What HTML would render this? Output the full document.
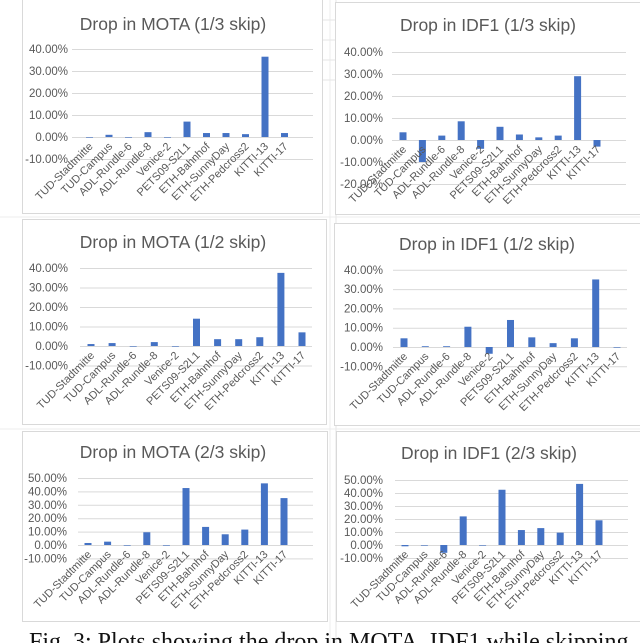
<!DOCTYPE html>
<html><head><meta charset="utf-8">
<style>
html,body{margin:0;padding:0;background:#fff;}
body{width:640px;height:643px;overflow:hidden;position:relative;}
svg{position:absolute;left:0;top:0;}
</style></head>
<body>
<svg id="fig" width="640" height="643" viewBox="0 0 640 643" xmlns="http://www.w3.org/2000/svg">
  <g id="bg">
    <line x1="336" y1="0" x2="336" y2="643" stroke="#e6e6e6"/>
    <line x1="330" y1="0" x2="330" y2="643" stroke="#ececec"/>
    <line x1="320" y1="20" x2="336" y2="20" stroke="#e6e6e6"/>
    <line x1="320" y1="40" x2="336" y2="40" stroke="#e6e6e6"/>
    <line x1="320" y1="60" x2="336" y2="60" stroke="#e6e6e6"/>
    <line x1="320" y1="80" x2="336" y2="80" stroke="#e6e6e6"/>
    <line x1="0" y1="217" x2="640" y2="217" stroke="#ececec"/>
    <line x1="0" y1="429" x2="640" y2="429" stroke="#ececec"/>
  </g>
  <text x="29" y="649" font-family="'Liberation Serif', serif" font-size="24" fill="#111">Fig. 3: Plots showing the drop in MOTA, IDF1 while skipping</text>
</svg>
<script>
const categories = ["TUD-Stadtmitte","TUD-Campus","ADL-Rundle-6","ADL-Rundle-8","Venice-2","PETS09-S2L1","ETH-Bahnhof","ETH-SunnyDay","ETH-Pedcross2","KITTI-13","KITTI-17"];
const motaThird = [0, 1, 0, 2.2, 0, 7, 1.8, 1.8, 1.3, 36.5, 1.8];
const idfThird = [3.5, -10, 2, 8.5, -4, 6, 2.5, 1.2, 2, 29, -3];
const motaHalf = [1, 1.5, 0, 2, 0, 14, 3.5, 3.5, 4.5, 37.5, 7];
const idfHalf = [4.5, 0.4, 0.4, 10.5, -3.5, 14, 5, 2, 4.5, 35, 0];
const motaTwoThird = [1.5, 2.5, 0, 9.5, -0.3, 42.5, 13.5, 8, 11.5, 46, 35];
const idfTwoThird = [-1, -0.3, -6, 22, -0.3, 42.5, 11.5, 13, 9.5, 47, 19];
const ticksA = [40, 30, 20, 10, 0, -10];
const ticksB = [40, 30, 20, 10, 0, -10, -20];
const ticksC = [50, 40, 30, 20, 10, 0, -10];

const NS = "http://www.w3.org/2000/svg";
const svg = document.getElementById('fig');
function mk(tag, attrs, parent){
  const e = document.createElementNS(NS, tag);
  for (const k in attrs) e.setAttribute(k, attrs[k]);
  parent.appendChild(e);
  return e;
}
const panels = [
  {name:"mota-third", title:"Drop in MOTA (1/3 skip)", values:motaThird, ticks:ticksA, box:[22,-1,300,214], tx:173, ty:30, y0:137, ppu:2.2, gx0:72, gx1:313, lx:68, c0:89.5, dx:19.5},
  {name:"idf1-third", title:"Drop in IDF1 (1/3 skip)", values:idfThird, ticks:ticksB, box:[335,2,310,212], tx:488, ty:31, y0:140, ppu:2.2, gx0:392, gx1:626, lx:383, c0:403, dx:19.4},
  {name:"mota-half", title:"Drop in MOTA (1/2 skip)", values:motaHalf, ticks:ticksA, box:[22,219,304,205], tx:173, ty:248, y0:346, ppu:1.95, gx0:80, gx1:312, lx:68, c0:91, dx:21.1},
  {name:"idf1-half", title:"Drop in IDF1 (1/2 skip)", values:idfHalf, ticks:ticksA, box:[334,223,310,202], tx:487, ty:250, y0:347, ppu:1.93, gx0:393, gx1:627, lx:383, c0:404, dx:21.3},
  {name:"mota-two-third", title:"Drop in MOTA (2/3 skip)", values:motaTwoThird, ticks:ticksC, box:[22,431,305,190], tx:173, ty:458, y0:545, ppu:1.34, gx0:78, gx1:313, lx:67, c0:88, dx:19.6},
  {name:"idf1-two-third", title:"Drop in IDF1 (2/3 skip)", values:idfTwoThird, ticks:ticksC, box:[336,431,310,190], tx:489, ty:459, y0:545, ppu:1.3, gx0:395, gx1:628, lx:383, c0:405, dx:19.4}
];
panels.forEach(p => {
  const g = mk('g', {}, svg);
  
  
  const box = mk('rect', {x:p.box[0]+0.5, y:p.box[1]+0.5, width:p.box[2], height:p.box[3], fill:'#fff', stroke:'#d9d9d9'}, g);
  
  
  const t = mk('text', {x:p.tx, y:p.ty, 'text-anchor':'middle', 'font-family':"'Liberation Sans', sans-serif", 'font-size':'17.5', fill:'#595959'}, g);
  t.textContent = p.title;
  
  
  const yS = v => p.y0 - v * p.ppu;
  p.ticks.forEach(tv => {
    const gl = mk('line', {x1:p.gx0, x2:p.gx1, y1:yS(tv)+0.5, y2:yS(tv)+0.5, stroke: '#d9d9d9', 'stroke-width':1}, g);
    
    
    const tl = mk('text', {x:p.lx, y:yS(tv)+4, 'text-anchor':'end', 'font-family':"'Liberation Sans', sans-serif", 'font-size':'11.5', fill:'#595959'}, g);
    tl.textContent = tv.toFixed(2) + '%';
    
    
  });
  const bw = 7;
  p.values.forEach((v, i) => {
    const cx = p.c0 + i * p.dx;
    const y1 = yS(Math.max(v, 0)), y2 = yS(Math.min(v, 0));
    const b = mk('rect', {x:cx - bw/2, y:y1, width:bw, height:Math.max(y2 - y1, 0.6), fill:'#4472c4'}, g);
    
    
    const lab = mk('text', {x:0, y:0, 'text-anchor':'end', 'font-family':"'Liberation Sans', sans-serif", 'font-size':'11', fill:'#595959', transform:'translate(' + (cx + 4) + ',' + (p.y0 + 10) + ') rotate(-45)'}, g);
    lab.textContent = categories[i];
    
    
  });
});
</script>
</body></html>
